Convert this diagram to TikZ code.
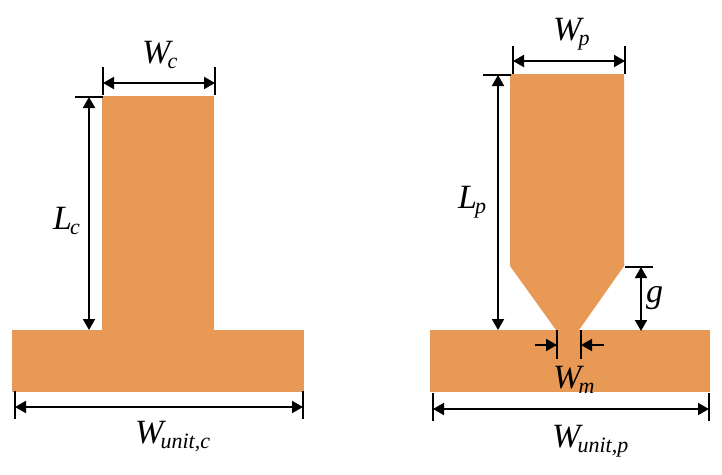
\documentclass[tikz,border=0pt]{standalone}
\usepackage{fontspec}
\setmainfont{Liberation Serif}
\usetikzlibrary{arrows.meta}
\definecolor{copper}{RGB}{233,153,86}
\newcommand{\symsub}[3][-5.5pt]{\textit{#2}\kern#1\raisebox{-5.5pt}{\fontsize{22}{22}\selectfont\textit{#3}}}
\tikzset{
  plate/.style={fill=copper,draw=none},
  dim/.style={line width=1.9pt,{Triangle[length=11pt,width=12pt]}-{Triangle[length=11pt,width=12pt]}},
  leader/.style={line width=1.9pt,-{Triangle[length=11pt,width=12pt]}},
  tick/.style={line width=1.9pt},
  lab/.style={font=\fontsize{34}{34}\selectfont,inner sep=0pt,anchor=base west}
}
\begin{document}
\begin{tikzpicture}[x=1pt,y=-1pt]
\useasboundingbox (0,0) rectangle (722,474);
% left structure
\fill[plate] (12,330) rectangle (304,392);
\fill[plate] (102,96) rectangle (214,331);
% right structure
\fill[plate] (430,330) rectangle (710,392);
\fill[plate] (510,74) -- (624,74) -- (624,266) -- (579,330) -- (579,331) -- (556,331) -- (556,330) -- (510,266) -- cycle;
% coordinates: left
\coordinate (wcL) at (103,83); \coordinate (wcR) at (215,83);
\coordinate (wcLt) at (103,67); \coordinate (wcLb) at (103,95);
\coordinate (wcRt) at (215,67); \coordinate (wcRb) at (215,95);
\coordinate (lcT) at (89,97); \coordinate (lcB) at (89,330);
\coordinate (lcTa) at (75,97); \coordinate (lcTb) at (103,97);
\coordinate (wuL) at (15,407); \coordinate (wuR) at (303,407);
\coordinate (wuLt) at (15,391); \coordinate (wuLb) at (15,419);
\coordinate (wuRt) at (303,391); \coordinate (wuRb) at (303,419);
\draw[tick] (wcLt) -- (wcLb);
\draw[tick] (wcRt) -- (wcRb);
\draw[dim] (wcL) -- (wcR);
\draw[tick] (lcTa) -- (lcTb);
\draw[dim] (lcT) -- (lcB);
\draw[tick] (wuLt) -- (wuLb);
\draw[tick] (wuRt) -- (wuRb);
\draw[dim] (wuL) -- (wuR);
% coordinates: right
\coordinate (wpL) at (513,61); \coordinate (wpR) at (625,61);
\coordinate (wpLt) at (513,46); \coordinate (wpLb) at (513,74);
\coordinate (wpRt) at (625,46); \coordinate (wpRb) at (625,74);
\coordinate (lpT) at (498,75); \coordinate (lpB) at (498,330);
\coordinate (lpTa) at (483,75); \coordinate (lpTb) at (511,75);
\coordinate (gT) at (641,267); \coordinate (gB) at (641,331);
\coordinate (gTa) at (625,267); \coordinate (gTb) at (653,267);
\coordinate (wmLs) at (535,345); \coordinate (wmL) at (557,345);
\coordinate (wmRs) at (604,345); \coordinate (wmR) at (581,345);
\coordinate (wmLt) at (557,330); \coordinate (wmLb) at (557,359);
\coordinate (wmRt) at (581,330); \coordinate (wmRb) at (581,359);
\coordinate (wvL) at (433,409); \coordinate (wvR) at (709,409);
\coordinate (wvLt) at (433,393); \coordinate (wvLb) at (433,421);
\coordinate (wvRt) at (709,393); \coordinate (wvRb) at (709,421);
\draw[tick] (wpLt) -- (wpLb);
\draw[tick] (wpRt) -- (wpRb);
\draw[dim] (wpL) -- (wpR);
\draw[tick] (lpTa) -- (lpTb);
\draw[dim] (lpT) -- (lpB);
\draw[tick] (gTa) -- (gTb);
\draw[dim] (gT) -- (gB);
\draw[tick] (wmLt) -- (wmLb);
\draw[tick] (wmRt) -- (wmRb);
\draw[leader] (wmLs) -- (wmL);
\draw[leader] (wmRs) -- (wmR);
\draw[tick] (wvLt) -- (wvLb);
\draw[tick] (wvRt) -- (wvRb);
\draw[dim] (wvL) -- (wvR);
% labels
\node[lab] (tWc) at (142,63) {\symsub{W}{c}};
\node[lab] (tLc) at (53,229) {\symsub[-2pt]{L}{c}};
\node[lab] (tWuc) at (135,443) {\symsub{W}{unit,c}};
\node[lab] (tWp) at (553,40) {\symsub{W}{p}};
\node[lab] (tLp) at (458,208) {\symsub[-2pt]{L}{p}};
\node[lab] (tg) at (646,302) {\textit{g}};
\node[lab] (tWm) at (553,388) {\symsub{W}{m}};
\node[lab] (tWup) at (552,447) {\symsub{W}{unit,p}};
\end{tikzpicture}
\end{document}
